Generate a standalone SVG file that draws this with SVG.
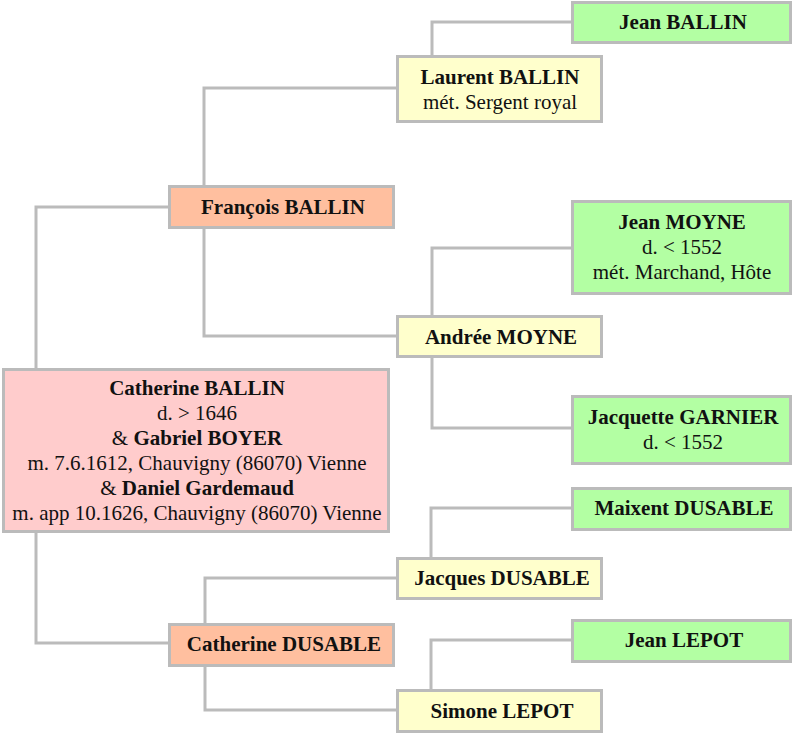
<svg xmlns="http://www.w3.org/2000/svg" width="794" height="734" viewBox="0 0 794 734">
<style>
.box{stroke:#BBBBBB;stroke-width:3}
.g{fill:#B3FFA3}.y{fill:#FFFFCC}.o{fill:#FFBF9F}.p{fill:#FFCCCC}
.lk{fill:none;stroke:#BBBBBB;stroke-width:3}
text{font-family:"Liberation Serif","DejaVu Serif",serif;font-size:21px;fill:#111;text-anchor:middle}
.b{font-weight:bold}
</style>
<rect width="794" height="734" fill="#FFFFFF"/>
<g id="connectors">
<path class="lk" d="M432,55 V22 H571"/>
<path class="lk" d="M204,185 V88 H396"/>
<path class="lk" d="M204,229 V336 H396"/>
<path class="lk" d="M432,315 V248 H571"/>
<path class="lk" d="M432,358 V428 H571"/>
<path class="lk" d="M36,368 V207 H168"/>
<path class="lk" d="M36,533 V643 H168"/>
<path class="lk" d="M205,623 V578 H396"/>
<path class="lk" d="M205,667 V710 H396"/>
<path class="lk" d="M431,557 V508 H571"/>
<path class="lk" d="M431,689 V640 H571"/>
</g>
<g id="jean-ballin"><rect class="box g" x="572.5" y="2.5" width="218" height="40"/><text class="b" x="683" y="29">Jean BALLIN</text></g>
<g id="laurent-ballin"><rect class="box y" x="397.5" y="56.5" width="204" height="65"/><text class="b" x="500" y="84">Laurent BALLIN</text><text x="500" y="109">mét. Sergent royal</text></g>
<g id="francois-ballin"><rect class="box o" x="169.5" y="186.5" width="224" height="41"/><text class="b" x="283" y="214">François BALLIN</text></g>
<g id="jean-moyne"><rect class="box g" x="572.5" y="201.5" width="218" height="92"/><text class="b" x="682" y="229">Jean MOYNE</text><text x="682" y="254">d. &lt; 1552</text><text x="682" y="279">mét. Marchand, Hôte</text></g>
<g id="andree-moyne"><rect class="box y" x="397.5" y="316.5" width="204" height="40"/><text class="b" x="501" y="344">Andrée MOYNE</text></g>
<g id="catherine-ballin"><rect class="box p" x="3.5" y="369.5" width="385" height="162"/>
<text class="b" x="197" y="395">Catherine BALLIN</text>
<text x="197" y="420">d. &gt; 1646</text>
<text x="197" y="445">&amp; <tspan class="b">Gabriel BOYER</tspan></text>
<text x="197" y="470">m. 7.6.1612, Chauvigny (86070) Vienne</text>
<text x="197" y="495">&amp; <tspan class="b">Daniel Gardemaud</tspan></text>
<text x="197" y="520">m. app 10.1626, Chauvigny (86070) Vienne</text></g>
<g id="jacquette-garnier"><rect class="box g" x="572.5" y="396.5" width="218" height="67"/><text class="b" x="683" y="424">Jacquette GARNIER</text><text x="683" y="449">d. &lt; 1552</text></g>
<g id="maixent-dusable"><rect class="box g" x="572.5" y="488.5" width="218" height="41"/><text class="b" x="684" y="515">Maixent DUSABLE</text></g>
<g id="jacques-dusable"><rect class="box y" x="397.5" y="558.5" width="204" height="40"/><text class="b" x="502" y="585">Jacques DUSABLE</text></g>
<g id="jean-lepot"><rect class="box g" x="572.5" y="620.5" width="218" height="41"/><text class="b" x="684" y="647">Jean LEPOT</text></g>
<g id="catherine-dusable"><rect class="box o" x="169.5" y="624.5" width="224" height="41"/><text class="b" x="284" y="651">Catherine DUSABLE</text></g>
<g id="simone-lepot"><rect class="box y" x="397.5" y="690.5" width="204" height="41"/><text class="b" x="502" y="718">Simone LEPOT</text></g>
</svg>
